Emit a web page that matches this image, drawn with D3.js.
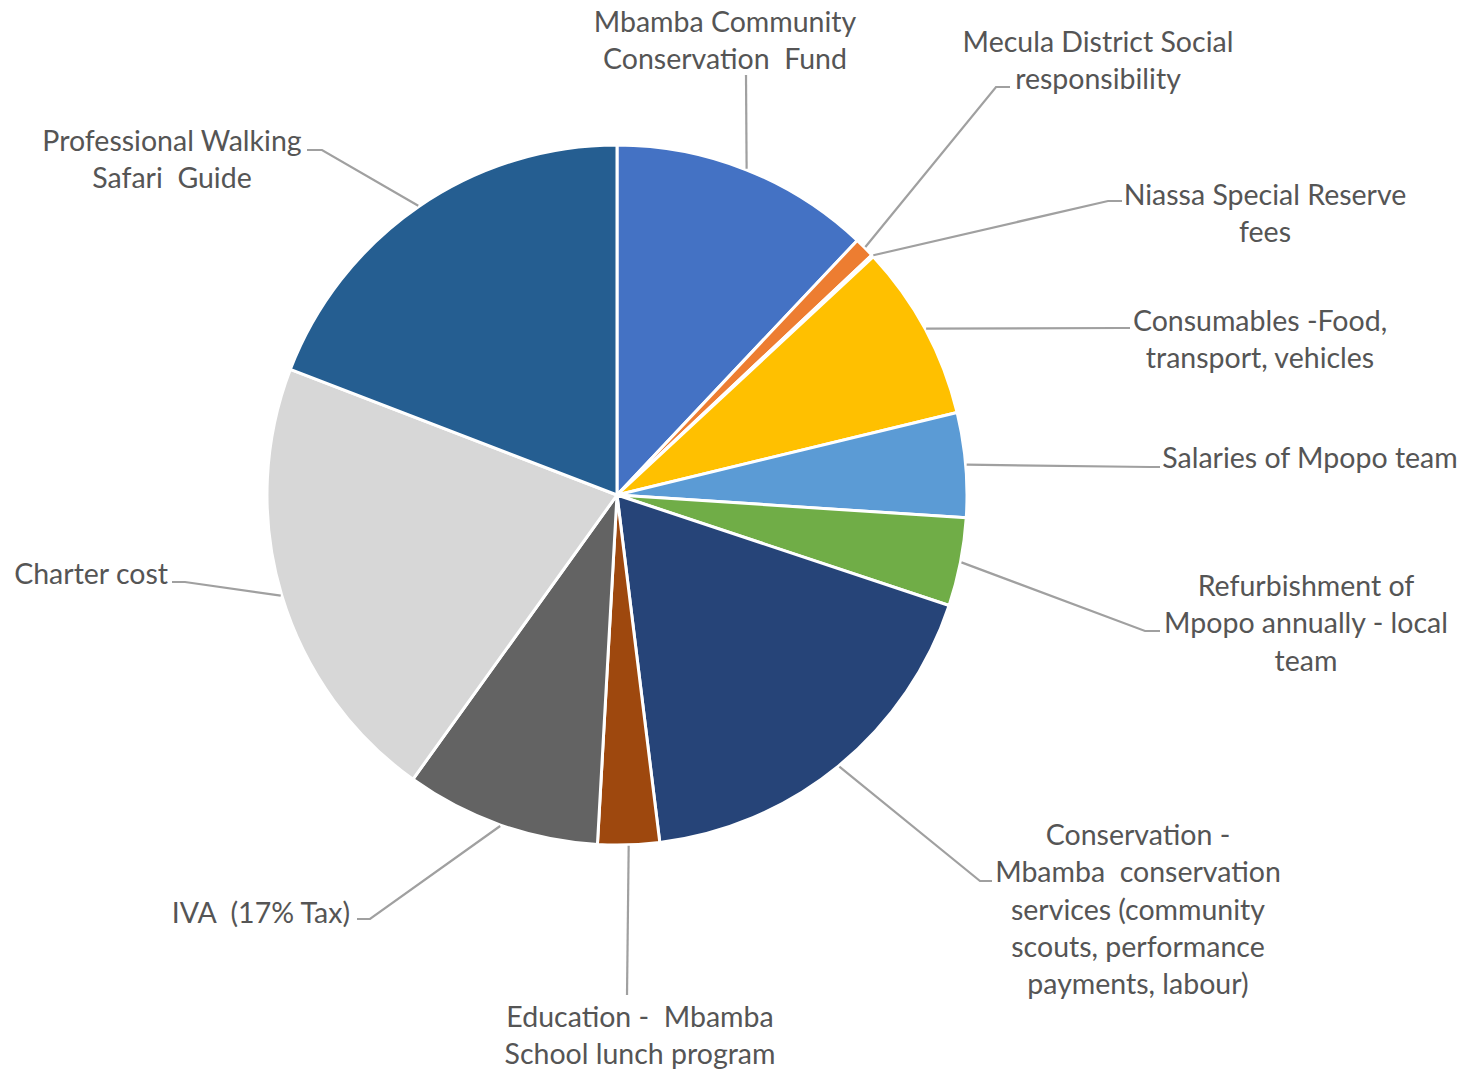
<!DOCTYPE html>
<html>
<head>
<meta charset="utf-8">
<script src="https://cdn.jsdelivr.net/npm/d3@7"></script>
<style>
  html, body { margin: 0; padding: 0; background: #fff; }
  text { font-family: Lato, "Open Sans", sans-serif; fill: #555555; }
</style>
</head>
<body>
<div id="chart"></div>
<script>
// data, clockwise from 12 o'clock (shares of total, %)
const categories = [
  'Mbamba Community Conservation Fund',
  'Mecula District Social responsibility',
  'Niassa Special Reserve fees',
  'Consumables -Food, transport, vehicles',
  'Salaries of Mpopo team',
  'Refurbishment of Mpopo annually - local team',
  'Conservation - Mbamba conservation services (community scouts, performance payments, labour)',
  'Education - Mbamba School lunch program',
  'IVA (17% Tax)',
  'Charter cost',
  'Professional Walking Safari Guide'
];
const shares = [12.04, 0.94, 0.1, 8.13, 4.83, 4.07, 17.94, 2.84, 9.02, 20.93, 19.16];
const colors = ['#4472C4', '#ED7D31', '#A5A5A5', '#FFC000', '#5B9BD5', '#70AD47',
                '#264478', '#9E480E', '#636363', '#D7D7D7', '#255E91'];

// label text lines as drawn in the chart
const labelLines = [
  ['Mbamba Community', 'Conservation  Fund'],
  ['Mecula District Social', 'responsibility'],
  ['Niassa Special Reserve', 'fees'],
  ['Consumables -Food,', 'transport, vehicles'],
  ['Salaries of Mpopo team'],
  ['Refurbishment of', 'Mpopo annually - local', 'team'],
  ['Conservation -', 'Mbamba  conservation', 'services (community', 'scouts, performance', 'payments, labour)'],
  ['Education -  Mbamba', 'School lunch program'],
  ['IVA  (17% Tax)'],
  ['Charter cost'],
  ['Professional Walking', 'Safari  Guide']
];

// label placement (layout only): text x/y of first line, anchor, leader elbow points
const labelLayout = [
  { x: 725, y: 21, anchor: 'middle', leader: [[746, 75]] },
  { x: 1098, y: 41, anchor: 'middle', leader: [[996, 87], [1010, 87]] },
  { x: 1265, y: 194, anchor: 'middle', leader: [[1108, 201], [1122, 201]] },
  { x: 1260, y: 320, anchor: 'middle', leader: [[1120, 328], [1130, 328]] },
  { x: 1310, y: 457, anchor: 'middle', leader: [[1150, 467], [1160, 467]] },
  { x: 1306, y: 585, anchor: 'middle', leader: [[1145, 631], [1160, 631]] },
  { x: 1138, y: 834, anchor: 'middle', leader: [[980, 881], [992, 881]] },
  { x: 640, y: 1016, anchor: 'middle', leader: [[627, 995]] },
  { x: 350, y: 912, anchor: 'end', leader: [[370, 919], [357, 919]] },
  { x: 168, y: 573, anchor: 'end', leader: [[185, 582], [172, 582]] },
  { x: 172, y: 140, anchor: 'middle', leader: [[322, 150], [307, 150]] }
];

const cfg = {
  width: 1468,
  height: 1070,
  cx: 617,
  cy: 495,
  radius: 350,
  lineHeight: 37.3,
  fontSize: 28.5
};

const svg = d3.select('#chart')
  .append('svg')
  .attr('width', cfg.width)
  .attr('height', cfg.height);

const data = categories.map((c, i) => ({ name: c, value: shares[i], idx: i }));

const pie = d3.pie()
  .value(d => d.value)
  .sort(null);

const arcs = pie(data);

const arc = d3.arc()
  .innerRadius(0)
  .outerRadius(cfg.radius);

const g = svg.append('g')
  .attr('transform', `translate(${cfg.cx},${cfg.cy})`);

g.selectAll('path.slice')
  .data(arcs)
  .enter()
  .append('path')
  .attr('class', 'slice')
  .attr('d', arc)
  .attr('fill', d => colors[d.data.idx])
  .attr('stroke', '#fff')
  .attr('stroke-width', 3)
  .attr('stroke-linejoin', 'round');

// leader lines: start on the rim at each slice's mid-angle
const line = d3.line();
svg.selectAll('path.leader')
  .data(arcs)
  .enter()
  .append('path')
  .attr('class', 'leader')
  .attr('d', d => {
    const a = (d.startAngle + d.endAngle) / 2;
    const r = cfg.radius + 1;
    const start = [cfg.cx + r * Math.sin(a), cfg.cy - r * Math.cos(a)];
    return line([start, ...labelLayout[d.data.idx].leader]);
  })
  .attr('fill', 'none')
  .attr('stroke', '#A0A0A0')
  .attr('stroke-width', 2.2);

// labels
const labels = svg.selectAll('text.label')
  .data(arcs)
  .enter()
  .append('text')
  .attr('class', 'label')
  .attr('font-size', cfg.fontSize)
  .attr('text-anchor', d => labelLayout[d.data.idx].anchor)
  .attr('dominant-baseline', 'central');

labels.selectAll('tspan')
  .data(d => labelLines[d.data.idx].map((t, k) => ({ t, k, lay: labelLayout[d.data.idx] })))
  .enter()
  .append('tspan')
  .attr('x', d => d.lay.x)
  .attr('y', d => d.lay.y + d.k * cfg.lineHeight)
  .style('white-space', 'pre')
  .text(d => d.t);
</script>
</body>
</html>
